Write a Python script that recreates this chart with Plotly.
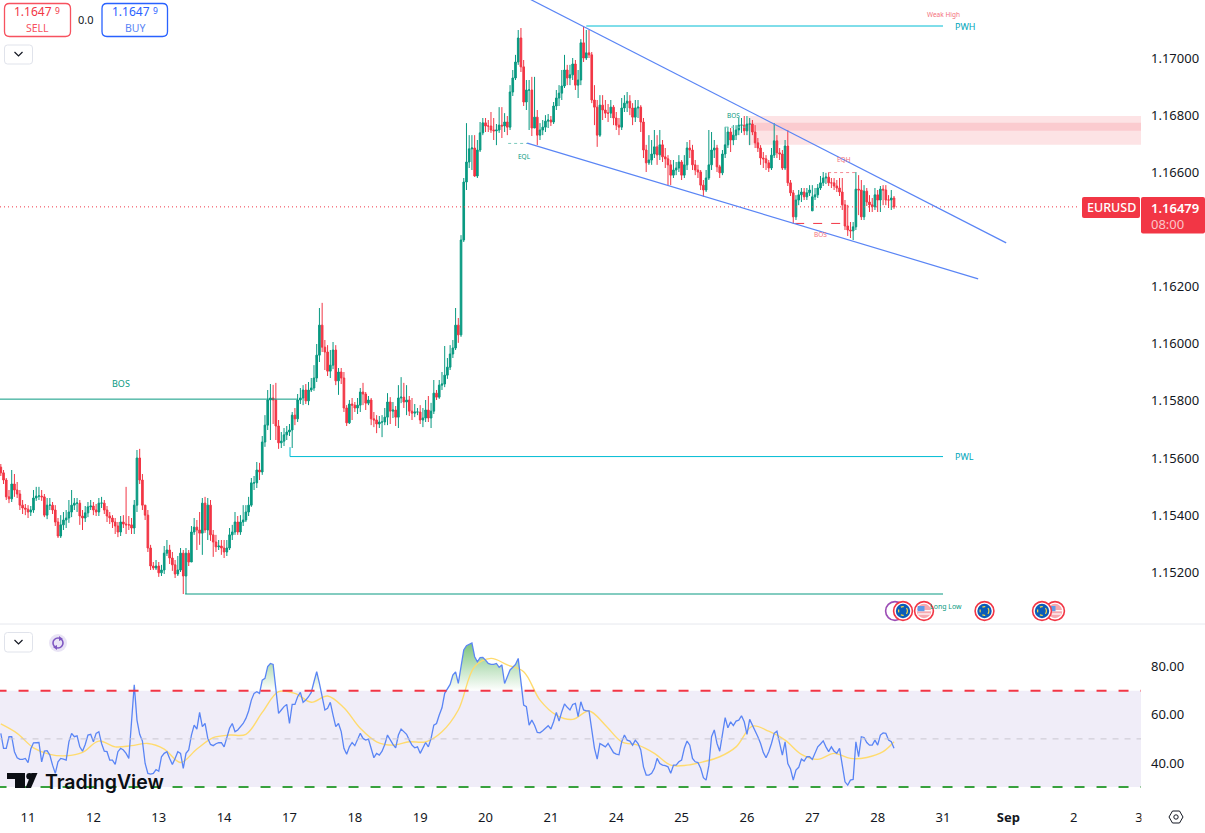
import plotly.graph_objects as go

# EURUSD 1h candles, prices in points (116479 = 1.16479). bar 0 = first bar of day "11", 24 bars a day
opens = [
    115568,115548,115523,115464,115457,115509,115488,115474,115435,115425,
    115421,115411,115418,115460,115467,115467,115464,115400,115435,115435,115418,115376,115327,115366,115383,115390,115411,115435,115442,115442,115397,115390,115408,115429,
    115432,115418,115411,115442,115442,115418,115397,115390,115376,115362,115341,115376,115369,115366,115366,115355,115435,115600,115523,115435,115400,115285,115222,115215,
    115222,115198,115208,115267,115278,115250,115226,115194,115208,115267,115187,115267,115236,115341,115358,115348,115337,115442,115348,115435,115331,115306,115289,115292,
    115285,115271,115285,115331,115341,115376,115341,115376,115383,115411,115435,115513,115513,115558,115551,115656,115715,115803,115810,115803,115712,115653,115659,115681,
    115691,115698,115750,115737,115803,115810,115838,115800,115838,115845,115880,115960,116065,115988,115971,115904,115925,115978,115870,115901,115880,115775,115723,115789,
    115785,115775,115785,115831,115824,115792,115803,115737,115733,115719,115726,115726,115743,115796,115764,115768,115743,115810,115813,115796,115803,115764,115757,115761,
    115761,115733,115740,115768,115740,115764,115827,115813,115855,115859,115890,115918,115964,115985,116065,116031,116363,116566,116636,116682,116685,116587,116678,116738,
    116773,116762,116762,116748,116745,116748,116765,116762,116776,116758,116881,116930,116986,117070,116969,116846,116888,116888,116755,116793,116730,116748,116758,116779,
    116783,116776,116832,116860,116877,116902,116958,116930,116941,116979,116905,116923,117053,117000,117018,117011,116853,116828,116730,116835,116818,116807,116807,116828,
    116790,116765,116758,116825,116842,116849,116825,116793,116825,116828,116776,116678,116633,116643,116664,116689,116661,116696,116654,116647,116626,116590,116608,116615,
    116636,116590,116626,116685,116678,116626,116608,116601,116555,116538,116580,116626,116678,116685,116619,116598,116664,116696,116741,116713,116730,116748,116765,116765,
    116745,116769,116769,116741,116703,116685,116650,116647,116633,116615,116660,116710,116668,116664,116615,116692,116563,116528,116444,116503,116521,116531,116514,116528,
    116465,116514,116521,116545,116563,116580,116583,116563,116563,116552,116545,116531,116486,116412,116398,116395,116409,116541,116538,116444,116534,116496,116486,116479,
    116521,116503,116541,116538,116503,116503,116510,
]
highs = [
    115579,115558,115530,115488,115558,115544,115516,115488,115453,115439,
    115435,115432,115488,115499,115499,115488,115474,115460,115460,115446,115435,115390,115400,115411,115418,115453,115488,115460,115460,115453,115418,115432,115446,115453,
    115446,115439,115460,115464,115453,115432,115411,115400,115390,115376,115397,115400,115499,115397,115390,115453,115628,115632,115544,115435,115418,115296,115236,115243,
    115236,115226,115292,115313,115296,115271,115243,115257,115285,115278,115285,115278,115362,115390,115383,115411,115460,115464,115460,115453,115348,115331,115313,115313,
    115313,115313,115355,115366,115411,115397,115400,115435,115435,115464,115530,115537,115586,115583,115677,115750,115838,115859,115856,115863,115733,115691,115705,115712,
    115719,115761,115775,115824,115845,115855,115859,115866,115880,115925,115999,116125,116143,116013,115995,115978,116006,115995,115915,115915,115901,115785,115803,115810,
    115796,115810,115845,115863,115831,115817,115810,115761,115750,115747,115750,115775,115827,115813,115796,115782,115855,115883,115863,115855,115817,115810,115789,115775,
    115785,115775,115803,115817,115793,115873,115838,115873,115901,115992,115950,115995,116013,116125,116090,116380,116580,116772,116730,116730,116730,116713,116776,116790,
    116790,116783,116811,116790,116769,116828,116828,116807,116797,116905,116958,117011,117098,117105,116993,116923,116923,116934,116934,116818,116772,116783,116800,116804,
    116797,116846,116888,116905,116958,117011,116976,116976,117000,116993,116958,117066,117112,117098,117098,117021,116905,116853,116870,116870,116853,116839,116853,116835,
    116811,116790,116860,116870,116881,116870,116842,116853,116853,116835,116790,116696,116730,116713,116748,116730,116748,116713,116685,116660,116643,116643,116636,116660,
    116643,116660,116706,116713,116696,116643,116626,116608,116573,116608,116748,116741,116713,116696,116626,116678,116759,116759,116755,116765,116765,116790,116790,116797,
    116797,116790,116783,116765,116720,116695,116671,116660,116643,116685,116772,116730,116685,116678,116713,116748,116573,116538,116520,116538,116545,116545,116545,116555,
    116555,116545,116559,116587,116601,116598,116601,116580,116580,116573,116580,116580,116503,116486,116426,116426,116601,116590,116573,116555,116545,116520,116510,116545,
    116538,116552,116555,116555,116520,116538,116517,
]
lows = [
    115537,115509,115453,115442,115446,115464,115460,115418,115404,115400,
    115390,115397,115408,115450,115453,115450,115393,115386,115418,115404,115362,115320,115320,115348,115355,115373,115393,115418,115411,115366,115348,115376,115393,115418,
    115400,115397,115397,115425,115404,115376,115369,115355,115334,115323,115327,115355,115334,115348,115334,115334,115411,115509,115418,115383,115271,115208,115208,115208,
    115184,115187,115194,115257,115229,115205,115180,115187,115201,115124,115124,115222,115236,115331,115278,115296,115261,115338,115313,115310,115254,115271,115278,115261,
    115250,115257,115278,115313,115331,115331,115331,115362,115376,115397,115429,115488,115495,115523,115541,115639,115698,115663,115719,115663,115632,115635,115642,115663,
    115677,115635,115715,115726,115789,115785,115789,115785,115831,115835,115866,115936,115971,115908,115887,115880,115911,115855,115821,115859,115761,115712,115719,115733,
    115761,115754,115761,115785,115768,115785,115715,115708,115687,115705,115673,115715,115715,115719,115740,115712,115705,115792,115775,115750,115747,115733,115743,115750,
    115719,115708,115726,115726,115705,115754,115803,115807,115838,115848,115877,115908,115950,115978,116003,116024,116356,116538,116615,116608,116584,116580,116671,116730,
    116741,116741,116738,116713,116695,116738,116720,116741,116730,116748,116867,116923,116976,116951,116832,116818,116748,116727,116765,116695,116713,116730,116741,116755,
    116762,116769,116818,116832,116853,116895,116905,116905,116923,116888,116860,116905,116986,116993,117000,116842,116765,116689,116724,116783,116790,116776,116790,116765,
    116748,116730,116748,116811,116811,116800,116765,116776,116790,116741,116650,116601,116626,116626,116650,116626,116643,116636,116615,116555,116555,116580,116590,116601,
    116573,116580,116608,116650,116608,116590,116580,116538,116514,116531,116573,116608,116650,116601,116580,116590,116650,116685,116671,116695,116713,116730,116738,116730,
    116730,116695,116730,116685,116671,116626,116615,116608,116601,116608,116650,116650,116643,116608,116608,116552,116517,116419,116433,116485,116496,116503,116503,116517,
    116465,116503,116510,116538,116552,116559,116552,116545,116538,116531,116517,116468,116398,116377,116370,116363,116398,116450,116433,116433,116482,116461,116461,116468,
    116461,116461,116485,116485,116475,116468,116472,
]
closes = [
    115548,115523,115464,115457,115509,115488,115474,115435,115425,115421,
    115411,115418,115460,115467,115467,115464,115400,115435,115435,115418,115376,115327,115366,115383,115390,115411,115435,115442,115442,115397,115390,115408,115429,115432,
    115418,115411,115442,115442,115418,115397,115390,115376,115362,115341,115376,115369,115366,115366,115355,115435,115600,115523,115435,115400,115285,115222,115215,115222,
    115198,115208,115267,115278,115250,115226,115194,115208,115267,115187,115267,115236,115341,115358,115348,115337,115442,115348,115435,115331,115306,115289,115292,115285,
    115271,115285,115331,115341,115376,115341,115376,115383,115411,115435,115513,115513,115558,115551,115656,115715,115803,115810,115803,115712,115653,115659,115681,115691,
    115698,115750,115737,115803,115810,115838,115800,115838,115845,115880,115960,116065,115988,115971,115904,115925,115978,115870,115901,115880,115775,115723,115789,115785,
    115775,115785,115831,115824,115792,115803,115737,115733,115719,115726,115726,115743,115796,115764,115768,115743,115810,115813,115796,115803,115764,115757,115761,115761,
    115733,115740,115768,115740,115764,115827,115813,115855,115859,115890,115918,115964,115985,116065,116031,116363,116566,116636,116682,116685,116587,116678,116738,116773,
    116762,116762,116748,116745,116748,116765,116762,116776,116758,116881,116930,116986,117070,116969,116846,116888,116888,116755,116793,116730,116748,116758,116779,116783,
    116776,116832,116860,116877,116902,116958,116930,116941,116979,116905,116923,117053,117000,117018,117011,116853,116828,116730,116835,116818,116807,116807,116828,116790,
    116765,116758,116825,116842,116849,116825,116793,116825,116828,116776,116678,116633,116643,116664,116689,116661,116696,116654,116647,116626,116590,116608,116615,116636,
    116590,116626,116685,116678,116626,116608,116601,116555,116538,116580,116626,116678,116685,116619,116598,116664,116696,116741,116713,116730,116748,116765,116765,116745,
    116769,116769,116741,116703,116685,116650,116647,116633,116615,116660,116710,116668,116664,116615,116692,116563,116528,116444,116503,116521,116531,116514,116528,116538,
    116514,116521,116545,116563,116580,116583,116563,116563,116552,116545,116531,116486,116412,116398,116395,116409,116541,116538,116444,116534,116496,116486,116479,116521,
    116503,116541,116538,116503,116503,116510,116479,
]
rsi = [
    52.3,46.1,46.1,50.9,50.9,44.7,42.2,41.5,41.5,41.9,
    40.2,45.8,48.4,48.5,48.5,40.5,44.9,45.1,43.3,39.1,35.7,40.5,41.9,41.6,41.2,48.8,52.3,50.9,51.3,46.7,44.9,47.7,51.6,51.9,
    48.8,52.3,53.0,48.1,44.9,44.7,41.2,41.2,39.4,44.7,46.1,45.4,44.0,41.9,55.7,72.4,57.8,51.9,49.1,39.8,35.7,35.4,35.7,37.3,
    36.6,42.6,44.0,44.7,41.9,39.4,41.9,44.7,44.0,37.8,44.0,45.4,51.6,55.7,54.1,61.0,55.1,56.4,50.2,47.7,47.2,48.0,48.4,48.4,
    46.7,50.2,54.4,56.4,53.0,53.7,55.1,56.4,58.5,61.6,66.1,68.9,69.6,68.9,74.4,75.1,80.0,81.3,80.9,71.0,60.6,62.0,63.4,64.3,
    56.4,64.3,64.3,67.5,69.3,65.2,66.1,67.5,69.3,73.7,77.9,73.0,67.5,62.0,62.7,65.2,59.9,55.1,56.4,53.0,46.1,43.6,46.7,48.5,
    47.2,49.5,52.3,50.2,49.5,49.9,46.1,42.2,44.0,43.3,44.9,47.7,51.6,49.5,47.7,46.3,51.6,54.1,53.0,51.9,49.5,47.4,46.3,46.7,
    44.0,46.1,48.5,46.7,50.2,55.7,56.4,59.9,62.9,68.9,71.0,72.6,76.5,77.8,73.0,79.3,86.9,88.7,89.4,89.8,84.1,82.0,83.7,83.8,
    82.7,81.3,80.9,80.9,81.3,79.7,80.7,73.0,75.8,78.6,79.7,80.9,83.4,73.7,64.0,63.4,55.7,57.8,55.7,52.7,52.5,53.4,54.6,55.5,
    54.1,57.1,61.0,57.4,61.3,64.5,63.1,62.0,64.3,64.7,59.2,65.4,62.0,61.6,61.6,53.0,46.1,41.6,48.1,47.4,46.7,48.1,46.1,44.3,
    43.7,43.4,48.8,51.6,49.5,49.1,47.4,49.5,48.1,45.4,38.4,35.0,35.0,35.7,37.8,41.9,39.8,39.1,38.9,38.4,35.7,39.1,39.1,40.5,
    41.2,46.1,49.1,47.4,41.9,40.5,40.2,37.8,33.9,32.9,39.0,50.9,53.7,48.1,44.9,51.6,58.8,54.6,57.1,55.5,57.4,57.8,59.6,57.1,
    51.9,58.1,55.7,53.7,50.9,48.1,44.4,42.2,44.7,48.1,52.3,53.2,48.1,43.3,48.8,39.8,37.5,32.9,37.1,38.2,41.6,40.8,42.6,42.6,
    41.5,44.0,46.7,47.9,49.2,46.7,44.7,46.7,44.9,44.0,46.1,39.1,32.2,30.8,32.9,33.2,48.8,42.6,50.9,50.6,48.5,47.4,47.4,49.5,
    47.4,51.6,52.5,52.3,49.5,48.8,46.1,
]
# yellow RSI average, read every 6 bars
rsi_ma_bars = [-10,-4,2,8,14,20,26,32,38,44,50,56,62,68,74,80,86,92,98,104,110,116,122,128,134,140,146,152,158,164,170,176,182,188,194,200,206,212,218,224,230,236,242,248,254,260,266,272,278,284,290,296,302,308,314,318]
rsi_ma = [56.2,52.3,46.3,43.6,43.0,44.4,49.1,46.7,47.2,48.1,45.8,40.2,45.8,50.5,51.6,51.9,61.0,69.6,68.9,65.2,67.8,62.9,54.4,48.8,47.4,48.8,48.8,53.0,62.0,80.0,83.4,80.7,77.9,66.1,59.9,58.1,61.6,55.7,48.8,47.4,44.0,39.1,39.1,40.5,42.6,46.7,55.3,53.2,49.5,43.6,41.5,44.0,41.9,42.3,44.7,48.8]

last_price = 116479
price_ticks = [1.17, 1.168, 1.166, 1.162, 1.16, 1.158, 1.156, 1.154, 1.152]
rsi_ticks = [80, 60, 40]
day_labels = ["11", "12", "13", "14", "17", "18", "19", "20", "21", "24", "25", "26", "27", "28", "31", "<b>Sep</b>", "2", "3"]

# drawings: [bar start, bar end, price in points]
bos_line = [-11, 99, 115806]
pwl_line = [96.2, 336, 115605]
pwh_line = [205, 336, 117112]
long_low_line = [57.7, 336, 115124]
eql_line = [176.3, 184.3, 116701]
eqh_line = [293.8, 304.4, 116599]
bos_red_line = [281.7, 301, 116421]
bos_green_line = [256, 264.4, 116758]
# trend lines: [bar, price, bar, price]
wedge_upper = [184.3, 117206, 359.2, 116353]
wedge_lower = [183.3, 116702, 348.9, 116227]
# supply zone: [start bar, top, mid top, mid bottom, bottom]
zone = [264.4, 116797, 116773, 116745, 116696]

UP = "#089981"
DOWN = "#F23645"
BLUE = "#5A85F5"
CYAN = "#00BCD4"
TEXT = "#131722"
FONT = "Noto Sans"

W, H = 1205, 833
PANE_R = 1141
X_RANGE = [-10.3, 408.7]


def px(x):
    return x / W


def py(y):
    return 1 - y / H


def pts(values):
    return [v / 100000 for v in values]


bars = list(range(-10, len(closes) - 10))
tick_bars = list(range(0, 24 * len(day_labels), 24))

fig = go.Figure()
fig.add_trace(go.Candlestick(
    x=bars, open=pts(opens), high=pts(highs), low=pts(lows), close=pts(closes),
    increasing=dict(line=dict(color=UP, width=1), fillcolor=UP),
    decreasing=dict(line=dict(color=DOWN, width=1), fillcolor=DOWN),
    whiskerwidth=0, showlegend=False, xaxis="x", yaxis="y",
))

# overbought fill sits on a flat 70 base
fig.add_trace(go.Scatter(x=bars, y=[70] * len(bars), mode="lines", line=dict(width=0),
                         showlegend=False, xaxis="x2", yaxis="y2", hoverinfo="skip"))
fig.add_trace(go.Scatter(
    x=bars, y=[max(v, 70) for v in rsi], mode="lines", line=dict(width=0), fill="tonexty",
    fillgradient=dict(type="vertical", start=70, stop=90,
                      colorscale=[[0, "rgba(76,175,80,0)"], [1, "rgba(76,175,80,0.75)"]]),
    showlegend=False, xaxis="x2", yaxis="y2", hoverinfo="skip",
))
fig.add_trace(go.Scatter(x=rsi_ma_bars, y=rsi_ma, mode="lines", line=dict(color="#FFDB6E", width=1.4, shape="spline"),
                         showlegend=False, xaxis="x2", yaxis="y2"))
fig.add_trace(go.Scatter(x=bars, y=rsi, mode="lines", line=dict(color=BLUE, width=1.3),
                         showlegend=False, xaxis="x2", yaxis="y2"))

shapes = []
notes = []


def price_line(seg, color, dash="solid", width=1):
    shapes.append(dict(type="line", xref="x", yref="y", x0=seg[0], x1=seg[1], y0=seg[2] / 100000, y1=seg[2] / 100000,
                       line=dict(color=color, width=width, dash=dash)))


def rsi_line(level, color, width, dash):
    shapes.append(dict(type="line", xref="x2", yref="y2", x0=-11.57, x1=X_RANGE[1], y0=level, y1=level,
                       line=dict(color=color, width=width, dash=dash)))


def rrect(x0, y0, x1, y1, r, fill="white", line=None, lw=1):
    d = (f"M {px(x0 + r)} {py(y0)} L {px(x1 - r)} {py(y0)} Q {px(x1)} {py(y0)} {px(x1)} {py(y0 + r)} "
         f"L {px(x1)} {py(y1 - r)} Q {px(x1)} {py(y1)} {px(x1 - r)} {py(y1)} "
         f"L {px(x0 + r)} {py(y1)} Q {px(x0)} {py(y1)} {px(x0)} {py(y1 - r)} "
         f"L {px(x0)} {py(y0 + r)} Q {px(x0)} {py(y0)} {px(x0 + r)} {py(y0)} Z")
    shapes.append(dict(type="path", xref="paper", yref="paper", path=d, fillcolor=fill,
                       line=dict(color=line or fill, width=lw if line else 0), layer="above"))


def poly(points, fill=None, line=None, lw=1, close=True):
    d = "M " + " L ".join(f"{px(x)} {py(y)}" for x, y in points) + (" Z" if close else "")
    shapes.append(dict(type="path", xref="paper", yref="paper", path=d,
                       fillcolor=fill if fill else "rgba(0,0,0,0)",
                       line=dict(color=line or "rgba(0,0,0,0)", width=lw if line else 0), layer="above"))


def dot(x, y, r, fill=None, line=None, lw=1, dash="solid"):
    shapes.append(dict(type="circle", xref="paper", yref="paper", x0=px(x - r), x1=px(x + r), y0=py(y + r), y1=py(y - r),
                       fillcolor=fill if fill else "rgba(0,0,0,0)",
                       line=dict(color=line or "rgba(0,0,0,0)", width=lw if line else 0, dash=dash), layer="above"))


def label(x, y, text, size, color, anchor="center", family=FONT, **kw):
    notes.append(dict(xref="paper", yref="paper", x=px(x), y=py(y), text=text, showarrow=False, xanchor=anchor,
                      yanchor="middle", font=dict(size=size, color=color, family=family, **kw)))


def chevron(cx, cy):
    poly([(cx - 4, cy - 2), (cx, cy + 2), (cx + 4, cy - 2)], line=TEXT, lw=1.2, close=False)


def eu_flag(x, y):
    dot(x, y, 9.4, fill="white", line=DOWN, lw=1.6)
    dot(x, y, 7.2, fill="#0B5CB8")
    dot(x, y, 4.4, line="#F5D742", lw=1.2, dash="dot")


def us_flag(x, y):
    dot(x, y, 9.4, fill="white", line=DOWN, lw=1.6)
    dot(x, y, 7.2, fill="#F6A9B0")
    poly([(x - 7, y - 0.3), (x + 7, y - 0.3)], line="white", lw=1.2, close=False)
    poly([(x - 6, y + 3), (x + 6, y + 3)], line="white", lw=1.2, close=False)
    poly([(x - 6.4, y - 5), (x + 0.5, y - 5), (x + 0.5, y + 0.2), (x - 6.4, y + 0.2)], fill="#5E9BE8")


# supply zone and RSI band go behind the candles
shapes.append(dict(type="rect", xref="x", yref="y", x0=zone[0], x1=X_RANGE[1], y0=zone[4] / 100000, y1=zone[1] / 100000,
                   fillcolor="#FDE3E5", line=dict(width=0), layer="below"))
shapes.append(dict(type="rect", xref="x", yref="y", x0=zone[0], x1=X_RANGE[1], y0=zone[3] / 100000, y1=zone[2] / 100000,
                   fillcolor="#FBCBCF", line=dict(width=0), layer="below"))
shapes.append(dict(type="rect", xref="x2", yref="y2", x0=X_RANGE[0], x1=X_RANGE[1], y0=30, y1=70,
                   fillcolor="#F0EDF8", line=dict(width=0), layer="below"))
rsi_line(70, "#F23645", 2, "10px,12px")
rsi_line(30, "#38A13E", 2, "10px,12px")
rsi_line(50, "#C9C6CF", 1, "6px,6px")

# drawn levels
price_line(bos_line, UP)
price_line(long_low_line, UP)
price_line(pwl_line, CYAN)
price_line(pwh_line, CYAN)
shapes.append(dict(type="line", xref="x", yref="y", x0=pwl_line[0], x1=pwl_line[0], y0=1.15638, y1=pwl_line[2] / 100000,
                   line=dict(color=CYAN, width=1)))
price_line(eql_line, "#7CCBBE", "dot")
price_line(bos_green_line, "#7CCBBE", "dot")
price_line(eqh_line, "#F58A94", "dot")
price_line(bos_red_line, DOWN, "dash")
price_line([X_RANGE[0], 386, last_price], DOWN, "1px,3px")
for wedge in (wedge_upper, wedge_lower):
    shapes.append(dict(type="line", xref="x", yref="y", x0=wedge[0], x1=wedge[2], y0=wedge[1] / 100000, y1=wedge[3] / 100000,
                       line=dict(color=BLUE, width=1.2)))

# pane separator and the clipped end of the time axis
poly([(0, 624), (W, 624)], line="#E6E8EE", lw=1, close=False)
poly([(PANE_R + 0.5, 802), (W, 802), (W, H), (PANE_R + 0.5, H)], fill="white")

# order buttons
rrect(4.5, 3.5, 70.5, 36.5, 5, line="#F7525F", lw=1.3)
rrect(102, 3.5, 167.5, 36.5, 5, line="#2962FF", lw=1.3)
label(54, 12, "1.1647", 12, "#F23645", anchor="right")
label(52.5, 10.5, "9", 8.5, "#F23645", anchor="left")
label(37.5, 28, "SELL", 10.5, "#F7525F")
label(152, 12, "1.1647", 12, "#2962FF", anchor="right")
label(150.5, 10.5, "9", 8.5, "#2962FF", anchor="left")
label(135, 28, "BUY", 10.5, "#5A85F5")
label(86, 19.5, "0.0", 11, TEXT)
rrect(4.5, 45, 32.5, 64, 3, line="#E0E3EB", lw=1)
chevron(18.5, 54)
rrect(4.5, 632.5, 32.5, 652, 3, line="#E0E3EB", lw=1)
chevron(18.5, 642)

# refresh badge
dot(58, 643, 9, fill="#E9E4F5")
dot(58, 643, 5, line="#7E57C2", lw=1.6)
poly([(59, 636), (63, 639), (59, 641)], fill="#7E57C2")
poly([(57, 650), (53, 647), (57, 645)], fill="#7E57C2")

# last price tags
rrect(1082, 197, 1140, 218, 2, fill=DOWN)
rrect(1141, 197, 1205, 233.5, 2, fill=DOWN)
label(1111, 208, "EURUSD", 12.5, "white", weight=500)
label(1149, 208, "1.16479", 13, "white", anchor="left", weight=600)
label(1149, 224, "08:00", 13, "#FBC4C9", anchor="left")

# drawing labels
label(121, 383, "BOS", 9, UP)
label(964, 456.5, "PWL", 9, "#00A5BA")
label(965, 26, "PWH", 9, "#00A5BA")
label(943, 15, "Weak High", 6.5, "#F4707B")
label(524, 156, "EQL", 6.5, UP)
label(734, 116, "BOS", 6.5, UP)
label(820, 234, "BOS", 6.5, "#F4707B")
label(844, 160, "EQH", 6.5, "#F4707B")
label(928, 606.5, "Long Low", 7, UP, anchor="left")

# calendar event badges
dot(895, 611, 9.4, fill="white", line="#9C4DB5", lw=1.6)
eu_flag(903, 611)
us_flag(924, 611)
eu_flag(984.5, 611)
us_flag(1055, 611)
eu_flag(1042, 611)

# TradingView mark
poly([(7, 773), (25, 773), (25, 788), (15, 788), (15, 779), (7, 779)], fill="#0B0E14")
dot(29.5, 776.2, 3.2, fill="#0B0E14")
poly([(31.5, 773), (37.5, 773), (31, 788), (25.5, 788)], fill="#0B0E14")
label(43, 782, "TradingView", 19.5, "#0B0E14", anchor="left", family="Inter", weight=600)

# settings hexagon
poly([(1169, 817), (1172.5, 811), (1179.5, 811), (1183, 817), (1179.5, 823), (1172.5, 823)], line=TEXT, lw=1)
dot(1176, 817, 2.2, line=TEXT, lw=1)

fig.update_layout(
    width=W, height=H, margin=dict(l=0, r=0, t=0, b=0, autoexpand=False), paper_bgcolor="white", plot_bgcolor="white",
    showlegend=False, hovermode=False, shapes=shapes, annotations=notes, boxgap=0.15,
    font=dict(family=FONT, size=13, color=TEXT),
    xaxis=dict(domain=[0, PANE_R / W], range=X_RANGE, anchor="y", showgrid=False, zeroline=False, showticklabels=False,
               ticks="", rangeslider=dict(visible=False), showline=False),
    yaxis=dict(domain=[py(624), 1], range=[1.15019, 1.17203], side="right", anchor="x", showgrid=False, zeroline=False,
               tickvals=price_ticks, ticktext=[f"{v:.5f}" for v in price_ticks], ticks="", ticklabelstandoff=9,
               tickfont=dict(size=13, color=TEXT), showline=False),
    xaxis2=dict(domain=[0, PANE_R / W], range=X_RANGE, anchor="y2", showgrid=False, zeroline=False,
                tickvals=tick_bars, ticktext=day_labels, ticks="", ticklabelstandoff=8,
                tickfont=dict(size=13, color=TEXT), showline=False),
    yaxis2=dict(domain=[py(800), py(625)], range=[24.65, 97.26], side="right", anchor="x2", showgrid=False, zeroline=False,
                tickvals=rsi_ticks, ticktext=[f"{v:.2f}" for v in rsi_ticks], ticks="", ticklabelstandoff=9,
                tickfont=dict(size=13, color=TEXT), showline=False),
)

fig.write_html("out.html", config=dict(displayModeBar=False),
               post_script="document.body.style.margin='0';document.body.style.overflow='hidden';")
